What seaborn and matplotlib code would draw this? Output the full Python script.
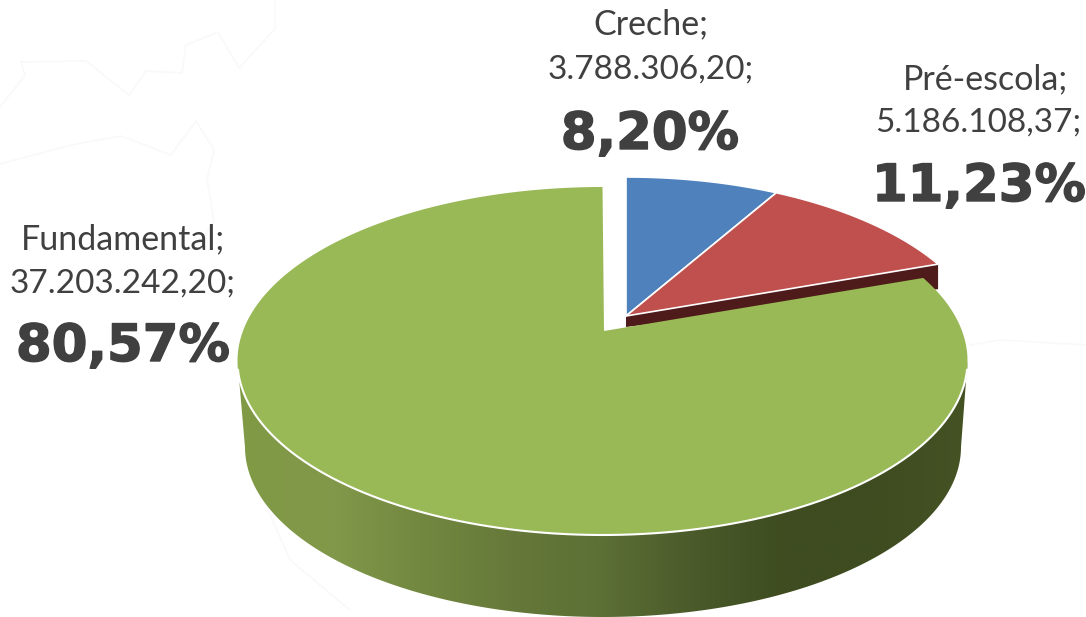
import numpy as np
import matplotlib
matplotlib.use('Agg')
import matplotlib.pyplot as plt
import matplotlib.patheffects as pe
from matplotlib.colors import LinearSegmentedColormap
from matplotlib.patches import Polygon
import seaborn as sns

categories = ['Creche', 'Pré-escola', 'Fundamental']
values = [3788306.20, 5186108.37, 37203242.20]
value_labels = ['3.788.306,20', '5.186.108,37', '37.203.242,20']
percent_labels = ['8,20%', '11,23%', '80,57%']
slice_colors = ['#4F81BD', '#C0504D', '#99B957']
wall_stops = ['#7F9A45', '#82984A', '#728840', '#66793A', '#5C6F35', '#4A5A2A', '#3E4C20', '#3E4C20', '#445224']

sns.set_theme(style='white')
plt.rcParams['font.family'] = ['Lato', 'DejaVu Sans']
palette = sns.color_palette(slice_colors)
text_color = '#404040'

fig = plt.figure(figsize=(10.86, 6.17), dpi=100)
ax = fig.add_axes([0, 0, 1, 1])
ax.set_xlim(0, 1086)
ax.set_ylim(617, 0)
ax.axis('off')

# turn the values into clockwise angles, squeezed for the chart's perspective
shares = np.array(values) / sum(values)
edges = np.concatenate([[0], np.cumsum(shares)]) * 2 * np.pi
K = 0.826


def persp(theta):
    half = np.arctan(K * np.tan(theta / 2))
    return 2 * half


def arc(cx, cy, rx, ry, start, stop, n=200):
    t = np.linspace(start, stop, n)
    return np.column_stack([cx + rx * np.sin(t), cy - ry * np.cos(t)])


# faint map lines in the background
for line in [
    [(0, 107), (25, 75), (21, 62), (86, 61), (129, 95), (146, 71), (182, 73), (186, 45),
     (218, 32), (239, 68), (275, 29), (275, 0)],
    [(0, 164), (71, 145), (121, 136), (171, 155), (196, 121), (214, 150), (207, 179),
     (214, 221), (200, 243)],
    [(245, 430), (255, 480), (290, 560), (350, 610)],
    [(1086, 345), (1000, 340), (970, 345)],
]:
    xs, ys = zip(*line)
    ax.plot(xs, ys, color='#F9F9F9', lw=1.2, zorder=0)

# green slice: side wall with horizontal shading
top_c = (602.5, 361, 365, 174)
low_c = (603, 447, 358, 170)
wall = np.vstack([
    arc(*top_c, np.pi / 2, 3 * np.pi / 2),
    arc(*low_c, 3 * np.pi / 2, np.pi / 2),
])
cmap = LinearSegmentedColormap.from_list('wall', wall_stops)
img = ax.imshow(np.linspace(0, 1, 400)[None, :], cmap=cmap, aspect='auto',
                extent=(238, 968, 617, 340), zorder=1)
img.set_clip_path(Polygon(wall, transform=ax.transData))
ax.set_xlim(0, 1086)
ax.set_ylim(617, 0)

# red slice: dark cut face
back = (627, 351, 359, 174)
back_apex = (626, 316)
red_end = arc(*back, persp(edges[2]), persp(edges[2]), 1)[0]
ax.fill([back_apex[0], red_end[0], red_end[0], back_apex[0]],
        [back_apex[1], red_end[1], red_end[1] + 25, back_apex[1] + 11],
        color='#4F1A1A', lw=0, zorder=2)

# green slice: top face, white rim only along the front
green_apex = (604, 331)
green_arc = arc(*top_c, persp(edges[2]) + 0.025, np.pi - 1e-4, 200)
green_rest = arc(*top_c, -np.pi + 1e-4, 0, 200)
green = np.vstack([[green_apex], green_arc, green_rest])
ax.add_patch(Polygon(green, closed=True, fc=palette[2], ec='none', lw=0, zorder=3))
rim = arc(*top_c, np.pi / 2 + 0.05, 3 * np.pi / 2 - 0.05)
ax.plot(rim[:, 0], rim[:, 1], color='white', lw=1.5, zorder=3)

# blue and red slices pulled out towards the back
for i in [0, 1]:
    pts = np.vstack([[back_apex], arc(*back, persp(edges[i]), persp(edges[i + 1]))])
    if i == 0:
        pts[1, 0] = back_apex[0]
    ax.add_patch(Polygon(pts, closed=True, fc=palette[i], ec='white', lw=1.2, zorder=4))

# labels
name_xy = [(651, 24), (986, 79), (123, 239)]
value_xy = [(651, 70), (978, 123), (123, 284)]
pct_xy = [(650, 135), (979, 187), (123, 347)]
for i in range(3):
    ax.text(*name_xy[i], categories[i] + ';', ha='center', va='center', fontsize=24.5,
            color=text_color, zorder=5)
    ax.text(*value_xy[i], value_labels[i] + ';', ha='center', va='center', fontsize=24,
            color=text_color, zorder=5)
    ax.text(*pct_xy[i], percent_labels[i], ha='center', va='center', fontsize=37,
            family='DejaVu Sans', fontweight='bold', color=text_color, zorder=5,
            path_effects=[pe.withStroke(linewidth=1, foreground=text_color)])

fig.savefig('out.png', dpi=100, facecolor='white')
